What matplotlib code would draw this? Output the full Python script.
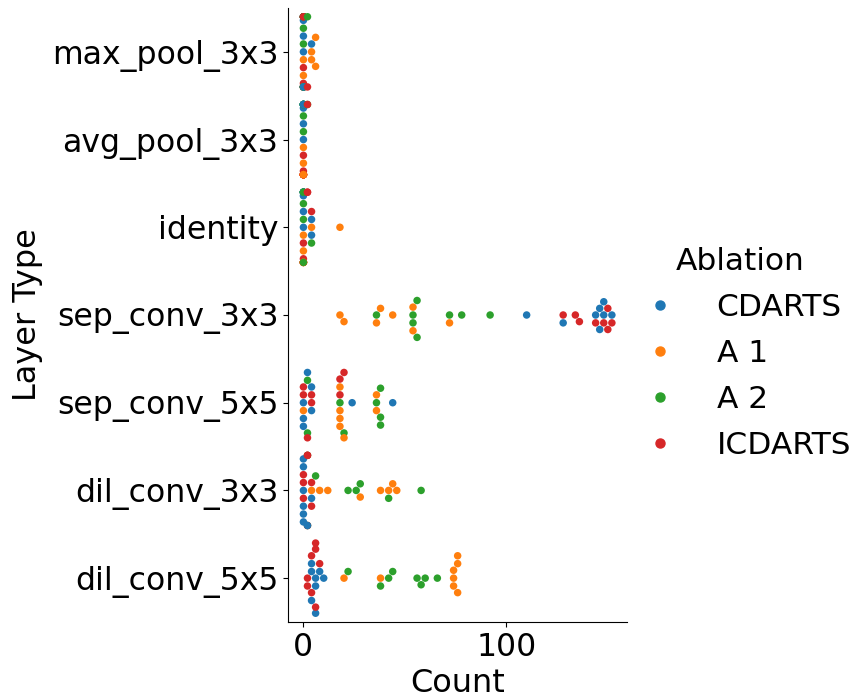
import warnings
warnings.filterwarnings("ignore")
import matplotlib
matplotlib.use("Agg")
import matplotlib.pyplot as plt
from matplotlib.lines import Line2D
import pandas as pd
import seaborn as sns

layer_types = ["max_pool_3x3", "avg_pool_3x3", "identity", "sep_conv_3x3",
               "sep_conv_5x5", "dil_conv_3x3", "dil_conv_5x5"]
ablations = ["CDARTS", "A 1", "A 2", "ICDARTS"]
colors = ["#1f77b4", "#ff7f0e", "#2ca02c", "#d62728"]

# counts per layer type (8 runs each), in the order of layer_types
cdarts = [
    [0, 0, 0, 0, 0, 0, 0, 4],
    [0, 0, 0, 0, 0, 0, 0, 0],
    [0, 0, 0, 0, 0, 0, 4, 4],
    [110, 128, 144, 146, 146, 148, 148, 152],
    [0, 0, 0, 2, 4, 4, 24, 44],
    [0, 0, 0, 0, 0, 0, 2, 4],
    [4, 4, 4, 6, 6, 6, 8, 10],
]
a1 = [
    [0, 0, 0, 0, 4, 4, 6, 6],
    [0, 0, 0, 0, 0, 0, 0, 0],
    [0, 0, 0, 0, 0, 0, 4, 18],
    [18, 20, 36, 38, 44, 54, 54, 72],
    [0, 18, 18, 18, 18, 20, 36, 36],
    [4, 8, 12, 28, 38, 42, 44, 46],
    [20, 38, 74, 74, 74, 76, 76, 76],
]
a2 = [
    [0, 0, 0, 0, 0, 0, 0, 2],
    [0, 0, 0, 0, 0, 0, 0, 2],
    [0, 0, 0, 0, 0, 0, 0, 4],
    [36, 54, 54, 56, 56, 72, 78, 92],
    [2, 2, 18, 20, 36, 38, 38, 38],
    [2, 2, 6, 22, 26, 28, 42, 58],
    [22, 38, 42, 44, 56, 58, 60, 66],
]
icdarts = [
    [0, 0, 0, 0, 0, 0, 0, 2],
    [0, 0, 0, 0, 0, 0, 0, 2],
    [0, 0, 0, 0, 0, 2, 2, 4],
    [128, 134, 136, 144, 148, 150, 150, 152],
    [0, 0, 2, 4, 4, 18, 18, 20],
    [0, 0, 0, 2, 2, 2, 4, 4],
    [2, 2, 4, 4, 6, 6, 6, 8],
]

tables = [cdarts, a1, a2, icdarts]
rows = []
for li, layer in enumerate(layer_types):
    for run in range(8):
        for name, table in zip(ablations, tables):
            rows.append({"Layer Type": layer, "Count": table[li][run],
                         "Ablation": name})
df = pd.DataFrame(rows)

plt.rcParams["xtick.labelsize"] = 22.7
plt.rcParams["ytick.labelsize"] = 22.7
plt.rcParams["axes.labelsize"] = 23

W, H = 855, 700
fig = plt.figure(figsize=(W / 100, H / 100), dpi=100)
ax = fig.add_axes([288 / W, (H - 622) / H, (627.3 - 288) / W, (622 - 8) / H])
sns.swarmplot(data=df, x="Count", y="Layer Type", hue="Ablation",
              order=layer_types, hue_order=ablations, palette=colors,
              size=5.4, ax=ax, legend=False)
ax.spines["top"].set_visible(False)
ax.spines["right"].set_visible(False)
ax.set_xlabel("Count")
ax.set_ylabel("Layer Type", labelpad=6)

handles = [Line2D([], [], marker="o", linestyle="", color=c, markersize=6.5)
           for c in colors]
fig.legend(handles, ablations, title="Ablation", loc="center left",
           bbox_to_anchor=(601 / W, 0.495), frameon=False, fontsize=22.5,
           title_fontsize=22.5, labelspacing=0.55)

fig.savefig("out.png", dpi=100)
